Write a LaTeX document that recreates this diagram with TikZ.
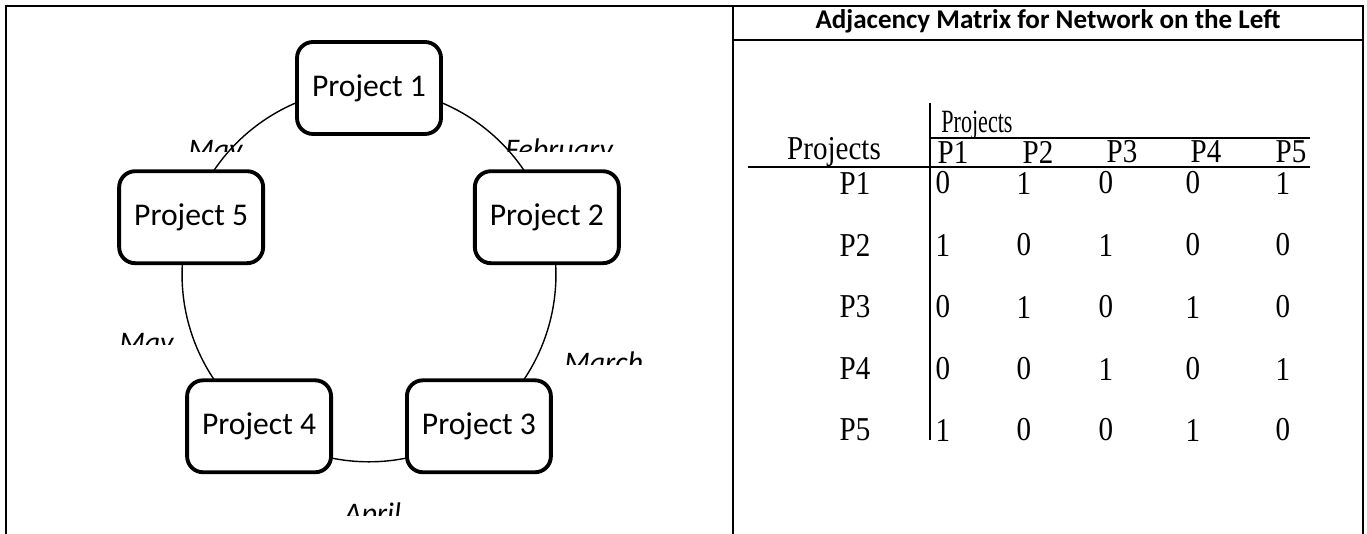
\documentclass[tikz,border=0pt]{standalone}
\usepackage{fontspec}
\setmainfont{Carlito}
\newfontfamily\timesfont[FakeStretch=0.87]{Liberation Serif}
\newfontfamily\timesnarrow[FakeStretch=0.68]{Liberation Serif}
\usetikzlibrary{positioning,calc,backgrounds}

\begin{document}
\begin{tikzpicture}[x=0.02cm, y=0.02cm,
    proj/.style={rectangle, rounded corners=0.32cm, draw=black, fill=white, line width=2.2pt, minimum width=2.88cm, minimum height=1.84cm, font=\fontsize{18}{21}\selectfont},
    month/.style={font=\fontsize{17}{20}\selectfont\itshape, inner sep=0pt, anchor=base west},
    link/.style={line width=0.8pt},
    rule/.style={line width=1.2pt},
    cell/.style={font=\timesfont\fontsize{19}{22}\selectfont, inner sep=0pt},
    title/.style={font=\fontsize{15.4}{18}\selectfont\bfseries}
  ]
    \useasboundingbox (0,0) rectangle (1367,534);
    % frame of the two panels
    \draw[rule] (6,0) -- (6,528) -- (1363,528) -- (1363,0);
    \draw[rule] (733,0) -- (733,528);
    \draw[rule] (733,494) -- (1363,494);
    \node[title] (ttl) at (1048,513) {Adjacency Matrix for Network on the Left};

    % network of projects
    \coordinate (ctr) at (369,259);
    \foreach \i/\ang in {1/90,2/18,3/-54,4/-126,5/162}
      \node[proj] (p\i) at ($(ctr)+(\ang:187)$) {Project \i};
    \begin{scope}[on background layer]
      \foreach \a/\b in {1/2,2/3,3/4,4/5,5/1}
        \draw[link] (p\a.center) to[bend left=36, looseness=0.94] (p\b.center);
    \end{scope}

    % month labels, cut off at the bottom
    \foreach \x/\y/\name/\lbl in {
      188/374/mmay/May,
      505/374/mfeb/February,
      119/181/mmayb/May,
      564/161/mmar/March,
      344/10/mapr/April
    } {
      \begin{scope}
        \clip (\x-5,\y+8) rectangle (\x+130,\y+40);
        \node[month] (\name) at (\x,\y) {\lbl};
      \end{scope}
    }

    % adjacency matrix
    \node[cell, font=\timesnarrow\fontsize{18.5}{22}\selectfont, anchor=west] (colhead) at (941,409) {Projects};
    \node[cell] (rowhead) at (834,382) {Projects};
    \foreach \j/\hx/\dx in {1/953/943,2/1038/1024,3/1122/1106,4/1206/1193,5/1291/1283} {
      \node[cell] (h\j) at (\hx,382) {P\j};
      \coordinate (col\j) at (\dx,382);
    }
    \foreach \r/\y/\vals in {
      1/351/{0,1,0,0,1},
      2/289/{1,0,1,0,0},
      3/227/{0,1,0,1,0},
      4/165/{0,0,1,0,1},
      5/104/{1,0,0,1,0}} {
      \node[cell] (r\r) at (855,\y) {P\r};
      \foreach \v [count=\c] in \vals
        \node[cell] (c\r\c) at (col\c |- r\r) {\v};
    }
    \draw[rule] (930,396) -- (1310,396);
    \draw[rule] (748,367) -- (1310,367);
    \draw[rule] (930,431) -- (930,94);
  \end{tikzpicture}
\end{document}
